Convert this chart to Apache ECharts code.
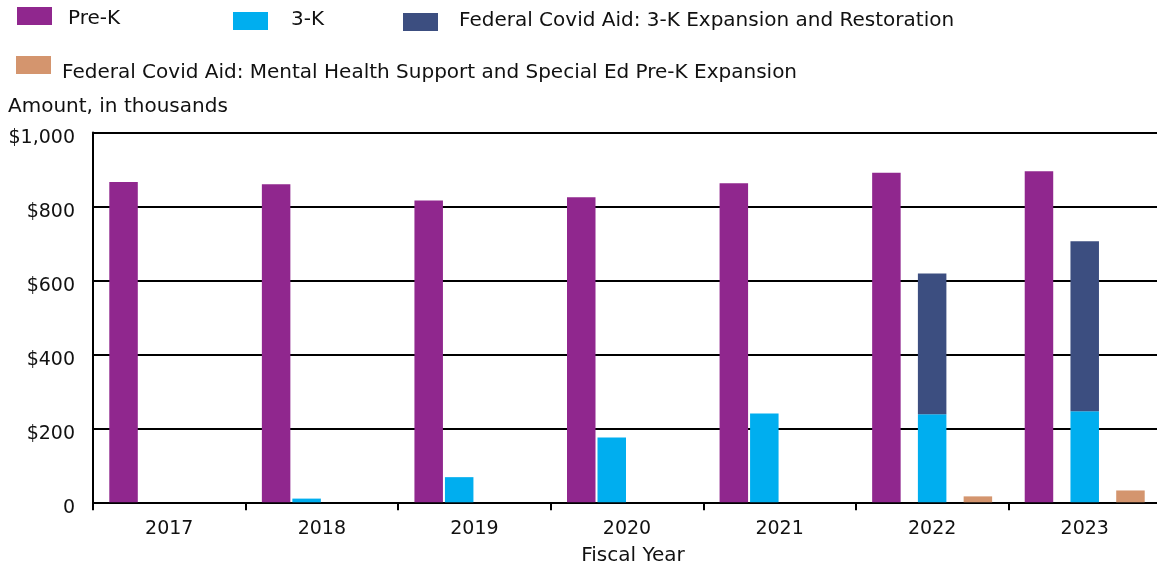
<!DOCTYPE html>
<html>
<head>
<meta charset="utf-8">
<title>Pre-K and 3-K funding by fiscal year</title>
<script src="https://cdn.jsdelivr.net/npm/echarts@6/dist/echarts.min.js"></script>
<style>
  html, body { margin: 0; padding: 0; background: #fff; }
  #chart { width: 1157px; height: 567px; }
</style>
</head>
<body>
<div id="chart"></div>
<script>
// Fiscal years on the category axis
const years = ['2017', '2018', '2019', '2020', '2021', '2022', '2023'];

// Amounts in thousands of dollars
const preK = [866, 860, 816, 825, 863, 891, 895];
const threeK = [0, 10, 68, 175, 240, 238, 246];
const covid3K = [0, 0, 0, 0, 0, 381, 460];
const covidMentalHealth = [0, 0, 0, 0, 0, 16, 32];

// Y axis ticks
const yTicks = [0, 200, 400, 600, 800, 1000];

const COLORS = {
  preK: '#90278e',
  threeK: '#00aeef',
  covid3K: '#3c4e80',
  mental: '#d4956e'
};
const TEXT = '#111';
const FONT = '"DejaVu Sans", sans-serif';

// Years where the 3-K bar is stacked with the federal expansion funds
const stackedYears = years.map((y, i) => covid3K[i] > 0);
const threeKSingle = threeK.map((v, i) => stackedYears[i] ? '-' : v);
const threeKStacked = threeK.map((v, i) => stackedYears[i] ? v : '-');
const covid3KStacked = covid3K.map((v, i) => stackedYears[i] ? v : '-');
const mentalShown = covidMentalHealth.map(v => v > 0 ? v : '-');

const BAR_W = 28.5;

// One legend box per entry so each can sit at its own spot;
// rich-text padding nudges the label relative to its swatch.
function legendAt(name, left, top, pad) {
  return {
    data: [name],
    left: left,
    top: top,
    padding: 0,
    icon: 'rect',
    itemWidth: 35,
    itemHeight: 18,
    selectedMode: false,
    formatter: n => '{t|' + n + '}',
    textStyle: {
      fontFamily: FONT,
      fontSize: 20,
      color: TEXT,
      rich: {
        t: {
          fontFamily: FONT,
          fontSize: 20,
          color: TEXT,
          lineHeight: 20,
          padding: pad
        }
      }
    }
  };
}

const chart = echarts.init(document.getElementById('chart'), null, { renderer: 'canvas' });

chart.setOption({
  animation: false,
  backgroundColor: '#fff',
  textStyle: { fontFamily: FONT },
  title: {
    text: 'Amount, in thousands',
    left: 8,
    top: 97,
    padding: 0,
    textStyle: { fontFamily: FONT, fontSize: 20, fontWeight: 'normal', color: TEXT }
  },
  legend: [
    legendAt('Pre-K', 17, 3, [6, 0, 0, 11]),
    legendAt('3-K', 233, 10, [0, 0, 2, 18]),
    legendAt('Federal Covid Aid: 3-K Expansion and Restoration', 403, 10.5, [0, 0, 3, 16]),
    legendAt('Federal Covid Aid: Mental Health Support and Special Ed Pre-K Expansion', 16, 47.5, [15, 0, 0, 6])
  ],
  grid: {
    left: 93,
    right: -4,
    top: 132.5,
    bottom: 64.7,
    containLabel: false,
    outerBoundsMode: 'none'
  },
  xAxis: [
    {
      type: 'category',
      data: years,
      position: 'bottom',
      boundaryGap: true,
      name: 'Fiscal Year',
      nameLocation: 'middle',
      nameGap: 43,
      nameTextStyle: { fontFamily: FONT, fontSize: 20, color: TEXT, padding: [0, 0, 0, 12] },
      axisLine: { show: true, lineStyle: { color: '#000', width: 2 } },
      axisTick: { show: true, length: 8, lineStyle: { color: '#000', width: 2 } },
      axisLabel: { fontFamily: FONT, fontSize: 19, color: TEXT, margin: 17 },
      splitLine: { show: false }
    },
    {
      // Overlaid axis that carries the stacked 3-K bars, centred in each year
      type: 'category',
      data: years,
      position: 'bottom',
      show: false
    }
  ],
  yAxis: {
    type: 'value',
    min: yTicks[0],
    max: yTicks[yTicks.length - 1],
    interval: yTicks[1] - yTicks[0],
    axisLine: { show: true, lineStyle: { color: '#000', width: 2 } },
    axisTick: { show: false },
    axisLabel: {
      fontFamily: FONT,
      fontSize: 19,
      color: TEXT,
      margin: 18,
      // labels sit a little below their gridlines
      formatter: v => '{v|' + (v === 0 ? '0' : '$' + v.toLocaleString('en-US')) + '}',
      rich: {
        v: { fontFamily: FONT, fontSize: 19, color: TEXT, lineHeight: 19, padding: [12, 0, 0, 0] }
      }
    },
    splitLine: { show: true, lineStyle: { color: '#000', width: 2 } }
  },
  series: [
    {
      name: 'Pre-K',
      type: 'bar',
      xAxisIndex: 0,
      data: preK,
      barWidth: BAR_W,
      barGap: '7%',
      itemStyle: { color: COLORS.preK }
    },
    {
      name: '3-K',
      type: 'bar',
      xAxisIndex: 0,
      data: threeKSingle,
      barWidth: BAR_W,
      barGap: '7%',
      itemStyle: { color: COLORS.threeK }
    },
    {
      // empty slot that separates the 3-K bars from the mental health bars
      name: 'spacer',
      type: 'bar',
      xAxisIndex: 0,
      data: [],
      barWidth: BAR_W,
      barGap: '7%',
      silent: true
    },
    {
      name: 'Federal Covid Aid: Mental Health Support and Special Ed Pre-K Expansion',
      type: 'bar',
      xAxisIndex: 0,
      data: mentalShown,
      barWidth: BAR_W,
      barGap: '7%',
      itemStyle: { color: COLORS.mental }
    },
    {
      name: '3-K',
      type: 'bar',
      xAxisIndex: 1,
      stack: 'threeK',
      data: threeKStacked,
      barWidth: BAR_W,
      itemStyle: { color: COLORS.threeK }
    },
    {
      name: 'Federal Covid Aid: 3-K Expansion and Restoration',
      type: 'bar',
      xAxisIndex: 1,
      stack: 'threeK',
      data: covid3KStacked,
      barWidth: BAR_W,
      itemStyle: { color: COLORS.covid3K }
    }
  ]
});
</script>
</body>
</html>
